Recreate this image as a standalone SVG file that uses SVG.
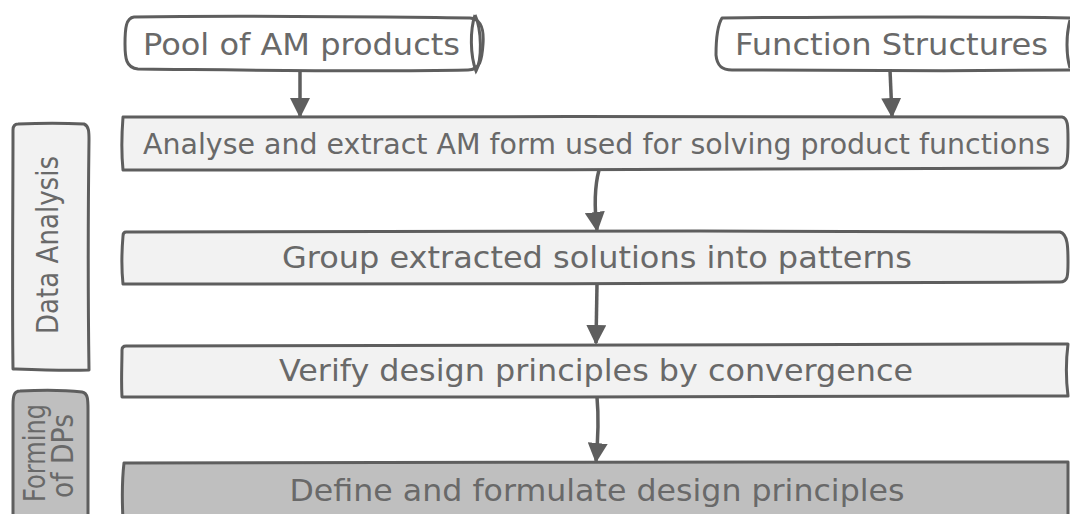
<svg xmlns="http://www.w3.org/2000/svg" width="1070" height="514" viewBox="0 0 1070 514">
<defs>
<style>
.box{fill:#f2f2f2;stroke:#5e5e5e;stroke-width:3;stroke-linejoin:round}
.dark{fill:#bfbfbf}
.wbox{fill:#ffffff}
.t{font-family:"DejaVu Sans",Verdana,sans-serif;fill:#696969;font-size:31px}
.t2{font-size:28.4px}
.conn{fill:none;stroke:#5e5e5e;stroke-width:3.5}
</style>
<marker id="ah" viewBox="0 0 10 10" refX="9" refY="5" markerUnits="userSpaceOnUse" markerWidth="20" markerHeight="20" orient="auto">
<path d="M0,0 L10,5 L0,10 Z" fill="#5e5e5e"/>
</marker>
</defs>
<rect width="1070" height="514" fill="#ffffff"/>

<g id="pool">
<path class="box wbox" d="M134,17 C250,15 380,17 470,18 C482,19 484,30 483,44 C482,60 480,70 468,70 C360,72 240,70 138,69 C126,68 125,58 125,44 C125,28 126,18 134,17 Z"/>
<path d="M475,15 C470,30 470,55 476,71 C482,60 482,30 475,15" fill="none" stroke="#5e5e5e" stroke-width="3"/>
<text class="t" x="143" y="55" textLength="317" lengthAdjust="spacingAndGlyphs">Pool of AM products</text>
</g>

<g id="function">
<path class="box wbox" d="M1075,18 C950,16 820,17 722,18 C717,26 716,40 716,55 C717,66 722,70 732,70 C850,71 960,71 1075,70"/>
<path d="M1070,20 C1066,35 1066,55 1070,68" fill="none" stroke="#5e5e5e" stroke-width="3"/>
<text class="t" x="735" y="55" textLength="313" lengthAdjust="spacingAndGlyphs">Function Structures</text>
</g>

<g id="analyse">
<path class="box" d="M123,117 C400,116 800,117 1062,117 C1068,118 1068,126 1068,140 C1068,158 1068,166 1060,168 C800,170 400,170 123,170 C121,150 122,130 123,117 Z"/>
<text class="t t2" x="143" y="154" textLength="907" lengthAdjust="spacingAndGlyphs">Analyse and extract AM form used for solving product functions</text>
</g>

<g id="group">
<path class="box" d="M126,232 C300,230 500,231 700,231 C900,231 1000,231 1060,232 C1068,234 1068,248 1068,262 C1068,276 1068,282 1060,282 C800,284 400,284 123,284 C121,265 122,248 123,236 C123,233 124,232 126,232 Z"/>
<text class="t" x="597" y="268" text-anchor="middle" textLength="630" lengthAdjust="spacingAndGlyphs">Group extracted solutions into patterns</text>
</g>

<g id="verify">
<path class="box" d="M126,346 C300,344 600,344 1068,344 C1066,360 1066,380 1068,396 C800,397 400,397 122,397 C121,380 122,365 122,350 C122,347 124,346 126,346 Z"/>
<text class="t" x="596" y="381" text-anchor="middle" textLength="634" lengthAdjust="spacingAndGlyphs">Verify design principles by convergence</text>
</g>

<g id="define">
<path class="box dark" d="M124,463 C400,462 800,462 1068,462 L1068,520 L123,520 C122,500 122,480 124,463 Z"/>
<text class="t" x="597" y="501" text-anchor="middle" textLength="615" lengthAdjust="spacingAndGlyphs">Define and formulate design principles</text>
</g>

<g id="data-analysis">
<path class="box" d="M18,124 C40,123 65,123 84,124 C89,126 89,132 89,140 C88,220 88,300 89,370 C65,371 40,370 13,369 C12,300 13,200 13,130 C13,126 15,124 18,124 Z"/>
<text class="t" transform="translate(58,245) rotate(-90)" text-anchor="middle" textLength="178" lengthAdjust="spacingAndGlyphs">Data Analysis</text>
</g>

<g id="forming">
<path class="box dark" d="M20,391 C40,390 65,390 82,392 C88,393 88,400 88,410 L88,520 L13,520 L13,405 C13,396 14,391 20,391 Z"/>
<text class="t" transform="translate(45,453) rotate(-90)" text-anchor="middle" textLength="98" lengthAdjust="spacingAndGlyphs">Forming</text>
<text class="t" transform="translate(73,456) rotate(-90)" text-anchor="middle" textLength="84" lengthAdjust="spacingAndGlyphs">of DPs</text>
</g>

<g id="connectors">
<path class="conn" d="M300,70 L300,116" marker-end="url(#ah)"/>
<path class="conn" d="M890,70 L892,116" marker-end="url(#ah)"/>
<path class="conn" d="M599,170 C595,185 594,205 597,230" marker-end="url(#ah)"/>
<path class="conn" d="M597,284 L596,343" marker-end="url(#ah)"/>
<path class="conn" d="M597,397 C599,420 598,440 596,461" marker-end="url(#ah)"/>
</g>
</svg>
